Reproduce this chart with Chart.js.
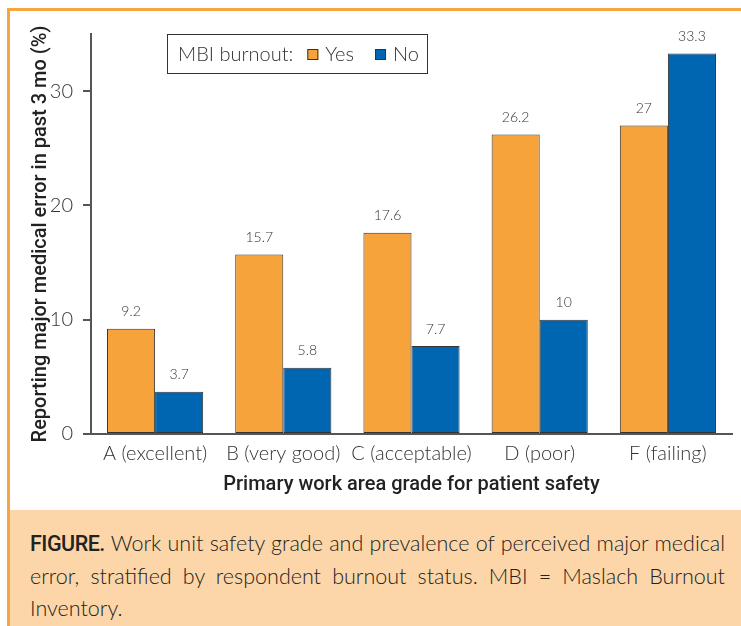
<!DOCTYPE html>
<html>
<head>
<meta charset="utf-8">
<script src="https://cdn.jsdelivr.net/npm/chart.js@4.4.1/dist/chart.umd.min.js"></script>
<style>
  html, body { margin: 0; padding: 0; background: #fff; }
  #wrap { position: relative; width: 741px; height: 626px; overflow: hidden; }
  #frame { position: absolute; left: 7px; top: 8px; right: -5px; bottom: -5px;
           border-top: 3px solid #F7A541; border-left: 3px solid #F7A541; }
  #chartBox { position: absolute; left: 0; top: 0; width: 741px; height: 510px; }
  #caption { position: absolute; left: 10px; top: 510px; width: 731px; height: 116px;
             background: #FCD6A8; box-sizing: border-box; padding: 17px 16px 0 20px;
             font-family: Lato, sans-serif; font-weight: 300; font-size: 21.5px;
             line-height: 32px; color: #222; }
  #caption .ln { text-align: justify; text-align-last: justify; }
  #caption .last { text-align: left; }
  #caption b { font-family: Roboto, sans-serif; font-weight: 500; letter-spacing: -0.5px; }
</style>
</head>
<body>
<div id="wrap">
  <div id="frame"></div>
  <div id="chartBox"><canvas id="chart"></canvas></div>
  <div id="caption">
    <div class="ln"><b>FIGURE.</b> Work unit safety grade and prevalence of perceived major medical</div>
    <div class="ln">error, stratified by respondent burnout status. MBI = Maslach Burnout</div>
    <div class="last">Inventory.</div>
  </div>
</div>
<script>
// data
const grades = ['A (excellent)', 'B (very good)', 'C (acceptable)', 'D (poor)', 'F (failing)'];
const burnoutYes = [9.2, 15.7, 17.6, 26.2, 27];
const burnoutNo = [3.7, 5.8, 7.7, 10, 33.3];
const yTicks = [0, 10, 20, 30];

const orange = '#F6A33C';
const blue = '#0066B2';

// numbers above the bars
const valueLabels = {
    id: 'valueLabels',
    afterDatasetsDraw(chart) {
        const ctx = chart.ctx;
        ctx.save();
        ctx.font = '300 14px Lato';
        ctx.fillStyle = '#333';
        ctx.textAlign = 'center';
        ctx.textBaseline = 'bottom';
        chart.data.datasets.forEach((ds, i) => {
            chart.getDatasetMeta(i).data.forEach((bar, j) => {
                ctx.fillText(String(ds.data[j]), bar.x, bar.y - 10);
            });
        });
        ctx.restore();
    }
};

// boxed legend in the top left of the plot
const boxLegend = {
    id: 'boxLegend',
    afterDraw(chart) {
        const ctx = chart.ctx;
        ctx.save();
        ctx.strokeStyle = '#333';
        ctx.lineWidth = 1;
        ctx.strokeRect(167.5, 34.5, 260, 39);
        ctx.font = '300 20px Lato';
        ctx.fillStyle = '#333';
        ctx.textBaseline = 'middle';
        let x = 178;
        const y = 55;
        ctx.fillText('MBI burnout:', x, y);
        x += ctx.measureText('MBI burnout:').width + 14;
        chart.data.datasets.forEach((ds, i) => {
            ctx.fillStyle = ds.backgroundColor;
            ctx.fillRect(x, y - 6, 11, 11);
            ctx.strokeRect(x + 0.5, y - 5.5, 10, 10);
            x += 18;
            ctx.fillStyle = '#333';
            ctx.fillText(ds.label, x, y);
            x += ctx.measureText(ds.label).width + 21;
        });
        ctx.restore();
    }
};

new Chart(document.getElementById('chart'), {
    type: 'bar',
    data: {
        labels: grades,
        datasets: [{
            label: 'Yes',
            data: burnoutYes,
            backgroundColor: orange,
            borderColor: '#333',
            borderWidth: 1,
            borderSkipped: false
        }, {
            label: 'No',
            data: burnoutNo,
            backgroundColor: blue,
            borderColor: '#333',
            borderWidth: 1,
            borderSkipped: false
        }]
    },
    options: {
        responsive: true,
        maintainAspectRatio: false,
        animation: false,
        categoryPercentage: 0.75,
        barPercentage: 1,
        layout: { padding: { left: 28, right: 9, top: 34, bottom: 0 } },
        plugins: {
            legend: { display: false },
            tooltip: { enabled: false }
        },
        scales: {
            x: {
                grid: { display: false, drawTicks: false },
                border: { display: true, color: '#555', width: 2 },
                ticks: {
                    color: '#333',
                    padding: 8,
                    font: { family: 'Lato', weight: '300', size: 20 }
                },
                title: {
                    display: true,
                    text: 'Primary work area grade for patient safety',
                    color: '#222',
                    padding: { top: 0, bottom: 13 },
                    font: { family: 'Roboto', weight: '500', size: 20 }
                },
                afterFit: (scale) => { scale.height = 76; }
            },
            y: {
                min: 0,
                max: 35,
                grid: { drawOnChartArea: false, drawTicks: true, tickLength: 8, color: '#555', lineWidth: 2 },
                border: { display: true, color: '#555', width: 2 },
                ticks: {
                    color: '#333',
                    padding: 10,
                    font: { family: 'Lato', weight: '300', size: 20 }
                },
                afterBuildTicks: (scale) => {
                    scale.ticks = yTicks.map(v => ({ value: v }));
                },
                title: {
                    display: true,
                    text: 'Reporting major medical error in past 3 mo (%)',
                    color: '#222',
                    padding: { top: 1, bottom: 0 },
                    font: { family: 'Roboto', weight: '500', size: 20 }
                },
                afterFit: (scale) => { scale.width = 63; }
            }
        }
    },
    plugins: [valueLabels, boxLegend]
});
</script>
</body>
</html>
